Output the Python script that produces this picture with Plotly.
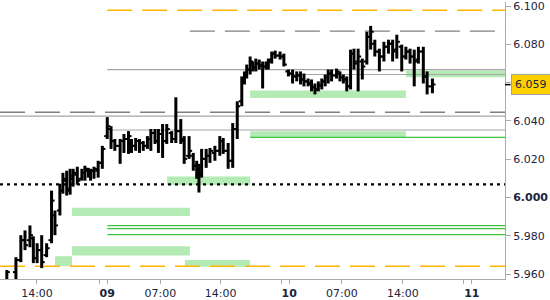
import plotly.graph_objects as go

# ---------------- data ----------------
# bar positions in half-hour slots on the (compressed) session axis
bar_x = [1.8, 4.2, 5.5, 6.6, 7.9, 8.8, 9.8, 11.0, 12.3, 13.6, 14.5, 15.8, 16.6, 17.6, 18.5, 19.3, 20.4,
         21.6, 22.4, 23.3, 23.9, 24.8, 25.9, 27.0, 28.3, 29.3, 30.3, 31.7, 32.7, 33.9, 34.7, 35.8, 36.8,
         37.8, 38.9, 39.8, 40.9, 41.8, 42.9, 44.0, 45.3, 46.4, 47.7, 48.6, 49.9, 51.0, 51.9, 52.5, 53.2,
         54.4, 55.4, 56.7, 58.0, 58.9, 60.2, 61.4, 62.6, 63.8, 64.5, 65.1, 66.0, 66.7, 67.5, 68.4, 69.3,
         70.2, 70.8, 71.7, 72.6, 73.9, 74.9, 76.1, 77.2, 78.3, 79.3, 80.2, 81.3, 82.2, 83.1, 84.0, 84.9,
         85.8, 86.6, 87.5, 88.8, 89.7, 90.6, 91.5, 92.5, 93.4, 94.5, 95.6, 96.8, 97.8, 98.9, 100.1, 101.3,
         102.5, 103.6, 104.7, 106.0, 107.1, 108.2, 109.3, 110.4, 111.7, 112.7, 114.1]

bar_open = [5.9569, 5.9610, 5.9673, 5.9777, 5.9777, 5.9787, 5.9683, 5.9725, 5.9699, 5.9777, 5.9906, 5.9932,
            6.0036, 6.0088, 6.0046, 6.0098, 6.0119, 6.0098, 6.0129, 6.0140, 6.0119, 6.0140, 6.0140, 6.0181,
            6.0321, 6.0358, 6.0295, 6.0270, 6.0295, 6.0306, 6.0295, 6.0270, 6.0295, 6.0285, 6.0270, 6.0306,
            6.0337, 6.0295, 6.0332, 6.0295, 6.0337, 6.0306, 6.0347, 6.0295, 6.0218, 6.0218, 6.0166, 6.0140,
            6.0129, 6.0202, 6.0218, 6.0233, 6.0244, 6.0295, 6.0244, 6.0192, 6.0358, 6.0503, 6.0607, 6.0633,
            6.0669, 6.0700, 6.0680, 6.0700, 6.0690, 6.0685, 6.0700, 6.0721, 6.0752, 6.0742, 6.0737, 6.0659,
            6.0648, 6.0633, 6.0638, 6.0617, 6.0607, 6.0596, 6.0576, 6.0565, 6.0586, 6.0607, 6.0628, 6.0648,
            6.0638, 6.0648, 6.0628, 6.0617, 6.0581, 6.0752, 6.0711, 6.0711, 6.0711, 6.0840, 6.0804, 6.0763,
            6.0737, 6.0788, 6.0804, 6.0773, 6.0788, 6.0737, 6.0763, 6.0737, 6.0721, 6.0763, 6.0633, 6.0581]

bar_high = [5.9621, 5.9688, 5.9803, 5.9828, 5.9854, 5.9797, 5.9761, 5.9803, 5.9761, 6.0036, 5.9932, 6.0072,
            6.0129, 6.0140, 6.0150, 6.0150, 6.0161, 6.0150, 6.0166, 6.0155, 6.0150, 6.0161, 6.0192, 6.0270,
            6.0420, 6.0373, 6.0306, 6.0306, 6.0332, 6.0347, 6.0306, 6.0311, 6.0306, 6.0295, 6.0321, 6.0358,
            6.0358, 6.0358, 6.0384, 6.0384, 6.0347, 6.0524, 6.0410, 6.0321, 6.0321, 6.0233, 6.0192, 6.0176,
            6.0254, 6.0254, 6.0259, 6.0270, 6.0321, 6.0311, 6.0285, 6.0389, 6.0503, 6.0633, 6.0659, 6.0695,
            6.0737, 6.0711, 6.0726, 6.0721, 6.0711, 6.0711, 6.0726, 6.0763, 6.0768, 6.0763, 6.0752, 6.0669,
            6.0669, 6.0659, 6.0659, 6.0648, 6.0622, 6.0617, 6.0596, 6.0607, 6.0622, 6.0643, 6.0669, 6.0669,
            6.0674, 6.0659, 6.0643, 6.0633, 6.0773, 6.0778, 6.0778, 6.0726, 6.0866, 6.0897, 6.0825, 6.0778,
            6.0814, 6.0825, 6.0825, 6.0851, 6.0799, 6.0788, 6.0778, 6.0773, 6.0788, 6.0788, 6.0659, 6.0622]

bar_low = [5.9559, 5.9559, 5.9662, 5.9725, 5.9740, 5.9657, 5.9657, 5.9631, 5.9688, 5.9761, 5.9803, 5.9906,
           6.0020, 6.0010, 6.0015, 6.0057, 6.0067, 6.0088, 6.0088, 6.0104, 6.0088, 6.0098, 6.0104, 6.0150,
           6.0306, 6.0254, 6.0244, 6.0176, 6.0233, 6.0228, 6.0233, 6.0244, 6.0233, 6.0244, 6.0254, 6.0244,
           6.0280, 6.0233, 6.0207, 6.0280, 6.0285, 6.0285, 6.0280, 6.0176, 6.0202, 6.0140, 6.0098, 6.0026,
           6.0104, 6.0155, 6.0181, 6.0192, 6.0218, 6.0228, 6.0150, 6.0155, 6.0306, 6.0477, 6.0591, 6.0622,
           6.0643, 6.0659, 6.0659, 6.0669, 6.0570, 6.0669, 6.0669, 6.0700, 6.0726, 6.0721, 6.0685, 6.0633,
           6.0596, 6.0607, 6.0591, 6.0581, 6.0581, 6.0555, 6.0539, 6.0555, 6.0565, 6.0581, 6.0596, 6.0607,
           6.0622, 6.0607, 6.0596, 6.0555, 6.0565, 6.0669, 6.0555, 6.0617, 6.0695, 6.0773, 6.0737, 6.0659,
           6.0711, 6.0752, 6.0711, 6.0726, 6.0659, 6.0721, 6.0700, 6.0581, 6.0700, 6.0596, 6.0539, 6.0545]

bar_close = [5.9610, 5.9673, 5.9777, 5.9751, 5.9803, 5.9683, 5.9725, 5.9662, 5.9735, 5.9984, 5.9854, 6.0036,
             6.0098, 6.0036, 6.0114, 6.0129, 6.0088, 6.0129, 6.0150, 6.0119, 6.0140, 6.0150, 6.0181, 6.0254,
             6.0373, 6.0295, 6.0270, 6.0295, 6.0306, 6.0321, 6.0270, 6.0295, 6.0285, 6.0270, 6.0306, 6.0337,
             6.0295, 6.0332, 6.0295, 6.0358, 6.0306, 6.0347, 6.0306, 6.0202, 6.0244, 6.0166, 6.0140, 6.0114,
             6.0202, 6.0218, 6.0244, 6.0244, 6.0295, 6.0244, 6.0192, 6.0358, 6.0477, 6.0607, 6.0633, 6.0669,
             6.0711, 6.0680, 6.0700, 6.0690, 6.0685, 6.0700, 6.0711, 6.0752, 6.0742, 6.0737, 6.0695, 6.0648,
             6.0633, 6.0638, 6.0617, 6.0607, 6.0596, 6.0576, 6.0565, 6.0586, 6.0607, 6.0628, 6.0648, 6.0638,
             6.0659, 6.0628, 6.0617, 6.0581, 6.0752, 6.0700, 6.0737, 6.0685, 6.0840, 6.0866, 6.0763, 6.0737,
             6.0788, 6.0804, 6.0763, 6.0814, 6.0737, 6.0763, 6.0737, 6.0711, 6.0763, 6.0633, 6.0581, 6.0591]

last_price = 6.059

# x-axis ticks (slot positions) and labels
x_tick_pos = [9.76, 26.2, 28.3, 42.3, 58.2, 74.3, 76.3, 90.2, 106.3, 122.2, 124.5]
x_tick_text = ["14:00", "", "<b>09</b>", "07:00", "14:00", "", "<b>10</b>", "07:00", "14:00", "", "<b>11</b>"]
x_range = [0, 133.25]

# 6.060 label sits under the last-price box, so it is left blank
y_tick_vals = [5.96, 5.98, 6.00, 6.02, 6.04, 6.06, 6.08, 6.10]
y_tick_text = ["5.960", "5.980", "<b>6.000</b>", "6.020", "6.040", "", "6.080", "6.100"]
y_range = [5.9574, 6.1022]

# horizontal levels: (price, start slot)
orange_dashed = [(6.0979, 28.3), (5.9641, 0.0)]
gray_dashed = [(6.0870, 50.1), (6.0446, 0.0)]
gray_solid = [(6.0668, 28.3), (6.0643, 76.3), (6.0425, 0.0), (6.0353, 28.3)]
green_lines = [(6.0314, 66.0), (5.9853, 28.3), (5.9837, 28.3), (5.9806, 28.3)]
dotted_level = (6.0069, 0.0)

# zones: (start slot, end slot, low, high)
zones = [
    (66.0, 107.1, 6.0520, 6.0560),
    (107.1, 133.25, 6.0629, 6.0664),
    (66.0, 107.1, 6.0312, 6.0347),
    (44.1, 66.0, 6.0066, 6.0110),
    (19.0, 50.1, 5.9903, 5.9946),
    (19.0, 50.1, 5.9697, 5.9745),
    (14.5, 19.0, 5.9641, 5.9693),
    (48.8, 66.0, 5.9638, 5.9673),
]

# ---------------- figure ----------------
TEXT = "#1b2440"
AXIS = "#aaaaaa"
FONT = "DejaVu Sans"

fig = go.Figure()

shapes = []
for x0, x1, lo, hi in zones:
    shapes.append(dict(type="rect", xref="x", yref="y", x0=x0, x1=x1, y0=lo, y1=hi,
                       fillcolor="#b4eab4", line=dict(width=0), layer="below"))
for p, s in gray_solid:
    shapes.append(dict(type="line", xref="x", yref="y", x0=s, x1=x_range[1], y0=p, y1=p,
                       line=dict(color="#a6a6a6", width=1.2), layer="below"))
for p, s in gray_dashed:
    shapes.append(dict(type="line", xref="x", yref="y", x0=s, x1=x_range[1], y0=p, y1=p,
                       line=dict(color="#808080", width=1.4, dash="25px,10px"), layer="below"))
for p, s in orange_dashed:
    shapes.append(dict(type="line", xref="x", yref="y", x0=s, x1=x_range[1], y0=p, y1=p,
                       line=dict(color="#ffb400", width=1.5, dash="25px,10px"), layer="below"))
for p, s in green_lines:
    shapes.append(dict(type="line", xref="x", yref="y", x0=s, x1=x_range[1], y0=p, y1=p,
                       line=dict(color="#3cc43c", width=1.2), layer="below"))
shapes.append(dict(type="line", xref="x", yref="y", x0=dotted_level[1], x1=x_range[1],
                   y0=dotted_level[0], y1=dotted_level[0],
                   line=dict(color="black", width=2.2, dash="3px,4px"), layer="below"))
# marker of last price on axis
shapes.append(dict(type="line", xref="paper", yref="y", x0=1.0, x1=1.011, y0=last_price, y1=last_price,
                   line=dict(color="black", width=1.5)))

# OHLC bars built from arrays
tw = 0.8
vx, vy, tx, ty = [], [], [], []
for x, o, h, l, c in zip(bar_x, bar_open, bar_high, bar_low, bar_close):
    vx += [x, x, None]
    vy += [l, h, None]
    tx += [x - tw, x, None, x, x + tw, None]
    ty += [o, o, None, c, c, None]

fig.add_trace(go.Scatter(x=vx, y=vy, mode="lines", line=dict(color="black", width=3),
                         hoverinfo="skip", showlegend=False))
fig.add_trace(go.Scatter(x=tx, y=ty, mode="lines", line=dict(color="black", width=2),
                         hoverinfo="skip", showlegend=False))

fig.update_layout(
    width=550, height=300,
    margin=dict(l=0, r=45, t=0, b=21),
    paper_bgcolor="white", plot_bgcolor="white",
    shapes=shapes,
    showlegend=False,
    font=dict(family=FONT, size=11, color=TEXT),
    xaxis=dict(range=x_range, tickmode="array", tickvals=x_tick_pos, ticktext=x_tick_text,
               showgrid=False, zeroline=False, showline=True, linecolor=AXIS, linewidth=1,
               ticks="outside", ticklen=4, tickcolor=AXIS, tickfont=dict(family=FONT, size=11, color=TEXT)),
    yaxis=dict(range=y_range, side="right", tickmode="array", tickvals=y_tick_vals, ticktext=y_tick_text,
               showgrid=False, zeroline=False, showline=True, linecolor=AXIS, linewidth=1,
               ticklabeloverflow="allow",
               ticks="outside", ticklen=5, tickcolor=AXIS, tickfont=dict(family=FONT, size=11, color=TEXT)),
    annotations=[dict(xref="paper", yref="y", x=1.0, y=last_price, xanchor="left", yanchor="middle",
                      xshift=6, text=f"{last_price:.3f}", showarrow=False,
                      font=dict(family=FONT, size=11, color=TEXT),
                      bgcolor="#ffd000", bordercolor="#a0a0a0", borderwidth=1, borderpad=3)],
)

fig.write_html("out.html")
